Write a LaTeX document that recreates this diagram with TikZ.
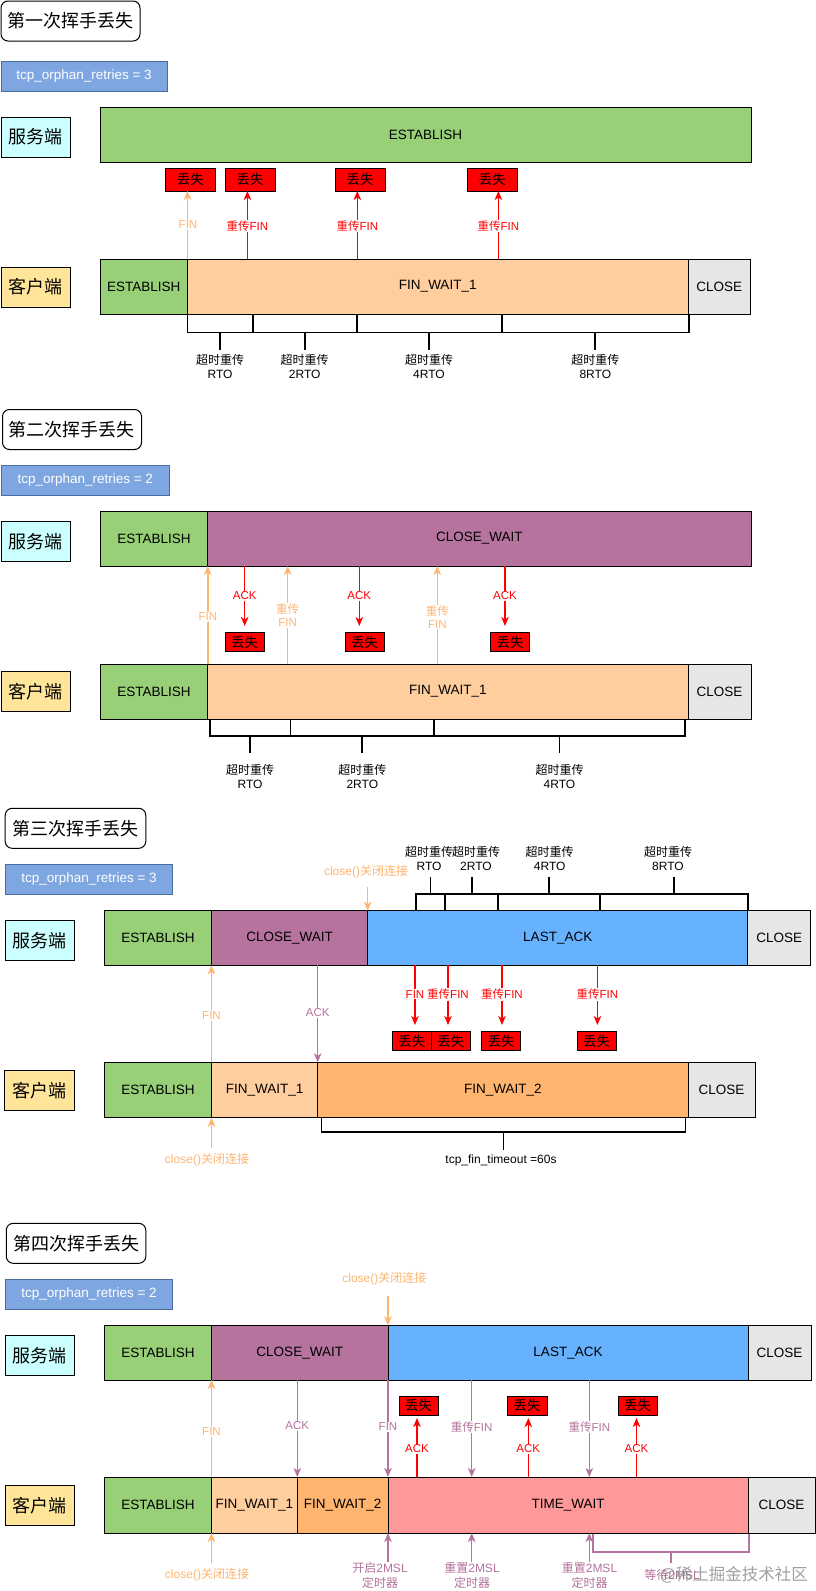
\documentclass[tikz,border=0pt]{standalone}
\usepackage{fontspec}
\setmainfont{Liberation Sans}
\newfontfamily\cjk{Noto Sans CJK SC}
\usetikzlibrary{arrows.meta}
\definecolor{cgreen}{HTML}{97D077}
\definecolor{cpurple}{HTML}{B5739D}
\definecolor{cfwa}{HTML}{FFCE9F}
\definecolor{cfwb}{HTML}{FFB570}
\definecolor{cblue}{HTML}{66B2FF}
\definecolor{ctw}{HTML}{FF9999}
\definecolor{cclose}{HTML}{E6E6E6}
\definecolor{ctcp}{HTML}{7EA6E0}
\definecolor{ctcpb}{HTML}{4A6B9E}
\definecolor{cserver}{HTML}{CCFFFF}
\definecolor{cclient}{HTML}{FFE599}
\definecolor{cred}{HTML}{FF0000}
\definecolor{corange}{HTML}{FFB570}
\newcommand\fsz[2]{\fontsize{#1}{#2}\selectfont}
\newcommand\rbox[7]{\node[#2, minimum width={(#5)-(#3)}, minimum height={(#6)-(#4)}] (#1) at ({((#3)+(#5))/2},{((#4)+(#6))/2}) {#7};}
\newcommand\seg[6][brk]{\draw[#1] (#2,#4) -- (#2,#5) -- (#3,#5) -- (#3,#4); \draw[#1] ({(#2+#3)/2},#5) -- ({(#2+#3)/2},#6);}
\begin{document}
\begin{tikzpicture}[x=1pt,y=-1pt,
  every node/.style={outer sep=0pt},
  bar/.style={draw=black, line width=1pt, inner sep=0pt, font=\fsz{13.5}{16}},
  titlebox/.style={draw=black, line width=1pt, rounded corners=7pt, fill=white, inner sep=0pt, font=\cjk\fsz{18}{20}},
  tcpbox/.style={draw=ctcpb, line width=1pt, fill=ctcp, text=white, inner sep=0pt, font=\fsz{13.5}{16}},
  srv/.style={draw=black, line width=0.9pt, fill=cserver, inner sep=0pt, font=\cjk\fsz{18}{20}},
  cli/.style={draw=black, line width=0.9pt, fill=cclient, inner sep=0pt, font=\cjk\fsz{18}{20}},
  loss/.style={draw=black, line width=0.8pt, fill=cred, inner sep=0pt, font=\cjk\fsz{13.5}{15}},
  arr/.style={line width=1.4pt, -{Stealth[length=9pt,width=7.5pt,inset=2.5pt]}},
  orarr/.style={arr, draw=corange},
  redarr/.style={arr, draw=cred},
  purarr/.style={arr, draw=cpurple},
  lab/.style={fill=white, inner sep=1pt, font=\fsz{11.5}{12.7}, align=center},
  orlab/.style={lab, text=corange},
  redlab/.style={lab, text=cred},
  purlab/.style={lab, text=cpurple},
  twol/.style={inner sep=0pt, align=center, font=\fsz{12}{14.3}},
  brk/.style={draw=black, line width=1.8pt},
  purbrk/.style={draw=cpurple, line width=1.6pt}]
\fill[white] (0,0) rectangle (816,1591);
\useasboundingbox (0,0) rectangle (816,1591);

% ===== Section 1 =====
\rbox{t1}{titlebox}{1}{1}{140}{41}{第一次挥手丢失}
\rbox{tcp1}{tcpbox}{1}{61}{167}{91}{tcp\_orphan\_retries = 3}
\rbox{srv1}{srv}{1}{117}{70.5}{157}{服务端}
\rbox{s1est}{bar,fill=cgreen}{100}{107}{751}{162}{ESTABLISH}
\rbox{l1a}{loss}{165}{168}{215.5}{191}{丢失}
\rbox{l1b}{loss}{225}{168}{275}{191}{丢失}
\rbox{l1c}{loss}{335}{168}{385}{191}{丢失}
\rbox{l1d}{loss}{467.5}{168}{517}{191}{丢失}
\rbox{cli1}{cli}{1}{267}{70.5}{307}{客户端}
\rbox{c1est}{bar,fill=cgreen}{100}{259}{187.5}{314}{ESTABLISH}
\rbox{c1fw}{bar,fill=cfwa}{187.5}{259}{688}{314}{FIN\_WAIT\_1}
\rbox{c1cl}{bar,fill=cclose}{688}{259}{750.5}{314}{CLOSE}
\draw[orarr] (c1fw.north west) -- (c1fw.north west |- l1a.south);
\coordinate (a1b) at (247.4,259);
\coordinate (a1c) at (357.3,259);
\coordinate (a1d) at (498.4,259);
\draw[redarr] (a1b) -- (a1b |- l1b.south);
\draw[redarr] (a1c) -- (a1c |- l1c.south);
\draw[redarr] (a1d) -- (a1d |- l1d.south);
\node[orlab] (f1a) at (188,225) {FIN};
\node[redlab] (f1b) at (247.4,226) {{\cjk 重传}FIN};
\node[redlab] (f1c) at (357.3,226) {{\cjk 重传}FIN};
\node[redlab] (f1d) at (498.4,226) {{\cjk 重传}FIN};
\seg{187.5}{252.6}{314}{332.5}{350}
\seg{252.6}{356.8}{314}{332.5}{350}
\seg{356.8}{501.6}{314}{332.5}{350}
\seg{501.6}{689}{314}{332.5}{350}
\node[twol] (b1a) at (220,366.5) {{\cjk 超时重传}\\RTO};
\node[twol] (b1b) at (304.7,366.5) {{\cjk 超时重传}\\2RTO};
\node[twol] (b1c) at (429,366.5) {{\cjk 超时重传}\\4RTO};
\node[twol] (b1d) at (595.3,366.5) {{\cjk 超时重传}\\8RTO};

% ===== Section 2 =====
\rbox{t2}{titlebox}{2.5}{409.5}{141.5}{449.5}{第二次挥手丢失}
\rbox{tcp2}{tcpbox}{1.5}{465}{169}{495.5}{tcp\_orphan\_retries = 2}
\rbox{srv2}{srv}{1}{521.5}{70.3}{561.5}{服务端}
\rbox{s2est}{bar,fill=cgreen}{100}{511}{207.8}{566}{ESTABLISH}
\rbox{s2cw}{bar,fill=cpurple}{207.8}{511}{751}{566}{CLOSE\_WAIT}
\rbox{l2a}{loss}{225}{632.7}{264}{651.7}{丢失}
\rbox{l2b}{loss}{345}{632.7}{384}{651.7}{丢失}
\rbox{l2c}{loss}{490.7}{632.7}{529.3}{651.7}{丢失}
\rbox{cli2}{cli}{1}{671.7}{70.3}{711.7}{客户端}
\rbox{c2est}{bar,fill=cgreen}{100}{664}{207.8}{719}{ESTABLISH}
\rbox{c2fw}{bar,fill=cfwa}{207.8}{664}{688}{719}{FIN\_WAIT\_1}
\rbox{c2cl}{bar,fill=cclose}{688}{664}{751}{719}{CLOSE}
\draw[orarr] (c2fw.north west) -- (c2fw.north west |- s2cw.south);
\coordinate (o2b) at (287.7,664);
\coordinate (o2c) at (437.3,664);
\draw[orarr] (o2b) -- (o2b |- s2cw.south);
\draw[orarr] (o2c) -- (o2c |- s2cw.south);
\coordinate (r2a) at (244.7,626);
\coordinate (r2b) at (359.3,626);
\coordinate (r2c) at (505,626);
\draw[redarr] (r2a |- s2cw.south) -- (r2a);
\draw[redarr] (r2b |- s2cw.south) -- (r2b);
\draw[redarr] (r2c |- s2cw.south) -- (r2c);
\node[orlab] (f2a) at (207.8,616.7) {FIN};
\node[orlab] (f2b) at (287.7,615.5) {{\cjk 重传}\\FIN};
\node[orlab] (f2c) at (437.3,617) {{\cjk 重传}\\FIN};
\node[redlab] (k2a) at (244.7,595.7) {ACK};
\node[redlab] (k2b) at (359.3,595.7) {ACK};
\node[redlab] (k2c) at (505,595.7) {ACK};
\seg{210}{290.5}{719}{735.7}{752.7}
\seg{290.5}{434}{719}{735.7}{752.7}
\seg{434}{685}{719}{735.7}{752.7}
\node[twol] (b2a) at (250,776.5) {{\cjk 超时重传}\\RTO};
\node[twol] (b2b) at (362.3,776.5) {{\cjk 超时重传}\\2RTO};
\node[twol] (b2c) at (559.5,776.5) {{\cjk 超时重传}\\4RTO};

% ===== Section 3 =====
\rbox{t3}{titlebox}{5.2}{808.3}{145.8}{848.3}{第三次挥手丢失}
\rbox{tcp3}{tcpbox}{5.2}{864}{172.9}{894.3}{tcp\_orphan\_retries = 3}
\rbox{srv3}{srv}{5}{920.7}{74.5}{960.7}{服务端}
\rbox{s3est}{bar,fill=cgreen}{104.7}{910.7}{211.5}{965.3}{ESTABLISH}
\rbox{s3cw}{bar,fill=cpurple}{211.5}{910.7}{367.7}{965.3}{CLOSE\_WAIT}
\rbox{s3la}{bar,fill=cblue}{367.7}{910.7}{747.8}{965.3}{LAST\_ACK}
\rbox{s3cl}{bar,fill=cclose}{747.8}{910.7}{810.9}{965.3}{CLOSE}
\node[orlab, font=\fsz{12}{14}] (k3) at (366,872) {close(){\cjk 关闭连接}};
\coordinate (k3a) at (367.7,887.3);
\draw[orarr] (k3a) -- (s3la.north west);
\seg{415.7}{445.3}{910.7}{894}{877}
\seg{445.3}{498.3}{910.7}{894}{877}
\seg{498.3}{599.7}{910.7}{894}{877}
\seg{599.7}{747.7}{910.7}{894}{877}
\node[twol] (b3a) at (429,858.2) {{\cjk 超时重传}\\RTO};
\node[twol] (b3b) at (476,858.2) {{\cjk 超时重传}\\2RTO};
\node[twol] (b3c) at (549.7,858.2) {{\cjk 超时重传}\\4RTO};
\node[twol] (b3d) at (668,858.2) {{\cjk 超时重传}\\8RTO};
\rbox{l3a}{loss}{392.7}{1031.7}{431.25}{1050.7}{丢失}
\rbox{l3b}{loss}{431.25}{1031.7}{470.3}{1050.7}{丢失}
\rbox{l3c}{loss}{481.8}{1031.7}{520.8}{1050.7}{丢失}
\rbox{l3d}{loss}{577}{1031.7}{616.1}{1050.7}{丢失}
\rbox{cli3}{cli}{4.2}{1070.7}{74.5}{1110}{客户端}
\rbox{c3est}{bar,fill=cgreen}{104.7}{1062.3}{211.5}{1117.7}{ESTABLISH}
\rbox{c3fwa}{bar,fill=cfwa}{211.5}{1062.3}{317.7}{1117.7}{FIN\_WAIT\_1}
\rbox{c3fwb}{bar,fill=cfwb}{317.7}{1062.3}{688}{1117.7}{FIN\_WAIT\_2}
\rbox{c3cl}{bar,fill=cclose}{688}{1062.3}{755.2}{1117.7}{CLOSE}
\coordinate (r3a) at (415,1025);
\coordinate (r3b) at (448,1025);
\coordinate (r3c) at (502,1025);
\coordinate (r3d) at (597.4,1025);
\draw[redarr] (r3a |- s3la.south) -- (r3a);
\draw[redarr] (r3b |- s3la.south) -- (r3b);
\draw[redarr] (r3c |- s3la.south) -- (r3c);
\draw[redarr] (r3d |- s3la.south) -- (r3d);
\node[redlab] (f3a) at (415,994.3) {FIN};
\node[redlab] (f3b) at (448,994.3) {{\cjk 重传}FIN};
\node[redlab] (f3c) at (502,994.3) {{\cjk 重传}FIN};
\node[redlab] (f3d) at (597.4,994.3) {{\cjk 重传}FIN};
\draw[orarr] (c3fwa.north west) -- (c3fwa.north west |- s3est.south);
\draw[purarr] (s3cw.south -| c3fwb.north west) -- (c3fwb.north west);
\node[orlab] (f3e) at (211.5,1016) {FIN};
\node[purlab] (k3c) at (317.7,1013) {ACK};
\coordinate (k3b) at (211.5,1148);
\draw[orarr] (k3b) -- (c3fwa.south west);
\node[orlab, font=\fsz{12}{14}] (k3d) at (207,1160) {close(){\cjk 关闭连接}};
\seg{321.4}{685.4}{1117.7}{1132.3}{1150}
\node[twol] (b3e) at (501,1160) {tcp\_fin\_timeout =60s};

% ===== Section 4 =====
\rbox{t4}{titlebox}{6.25}{1223.3}{145.8}{1263.3}{第四次挥手丢失}
\rbox{tcp4}{tcpbox}{5.2}{1279.3}{172.9}{1309.3}{tcp\_orphan\_retries = 2}
\rbox{srv4}{srv}{5}{1335.3}{74.5}{1375.3}{服务端}
\rbox{s4est}{bar,fill=cgreen}{104.7}{1325.3}{211.5}{1380}{ESTABLISH}
\rbox{s4cw}{bar,fill=cpurple}{211.5}{1325.3}{388}{1380}{CLOSE\_WAIT}
\rbox{s4la}{bar,fill=cblue}{388}{1325.3}{748}{1380}{LAST\_ACK}
\rbox{s4cl}{bar,fill=cclose}{748}{1325.3}{811}{1380}{CLOSE}
\node[orlab, font=\fsz{12}{14}] (k4) at (384.4,1278.3) {close(){\cjk 关闭连接}};
\coordinate (k4a) at (388,1296);
\draw[orarr] (k4a) -- (s4la.north west);
\rbox{l4a}{loss}{399}{1396}{438}{1415}{丢失}
\rbox{l4b}{loss}{507}{1396}{547}{1415}{丢失}
\rbox{l4c}{loss}{618}{1396}{657}{1415}{丢失}
\rbox{cli4}{cli}{5}{1485.7}{74.5}{1525.7}{客户端}
\rbox{c4est}{bar,fill=cgreen}{104.7}{1477}{211.5}{1533}{ESTABLISH}
\rbox{c4fwa}{bar,fill=cfwa}{211.5}{1477}{297.3}{1533}{FIN\_WAIT\_1}
\rbox{c4fwb}{bar,fill=cfwb}{297.3}{1477}{388}{1533}{FIN\_WAIT\_2}
\rbox{c4tw}{bar,fill=ctw}{388}{1477}{748}{1533}{TIME\_WAIT}
\rbox{c4cl}{bar,fill=cclose}{748}{1477}{815}{1533}{CLOSE}
\draw[orarr] (c4fwa.north west) -- (c4fwa.north west |- s4est.south);
\draw[purarr] (s4cw.south -| c4fwb.north west) -- (c4fwb.north west);
\draw[purarr] (s4la.south west) -- (c4tw.north west);
\coordinate (p4c) at (471.7,1477);
\coordinate (p4d) at (589.3,1477);
\draw[purarr] (p4c |- s4la.south) -- (p4c);
\draw[purarr] (p4d |- s4la.south) -- (p4d);
\coordinate (r4a) at (417,1477);
\coordinate (r4b) at (528.3,1477);
\coordinate (r4c) at (636.5,1477);
\coordinate (r4ae) at (417,1418);
\coordinate (r4be) at (528.3,1418);
\coordinate (r4ce) at (636.5,1418);
\draw[redarr] (r4a) -- (r4ae);
\draw[redarr] (r4b) -- (r4be);
\draw[redarr] (r4c) -- (r4ce);
\node[orlab] (f4a) at (211.5,1432) {FIN};
\node[purlab] (f4b) at (297.3,1426) {ACK};
\node[purlab] (f4c) at (388,1427) {FIN};
\node[purlab] (f4d) at (471.7,1427) {{\cjk 重传}FIN};
\node[purlab] (f4e) at (589.3,1427) {{\cjk 重传}FIN};
\node[redlab] (k4a1) at (417,1449) {ACK};
\node[redlab] (k4b1) at (528.3,1449) {ACK};
\node[redlab] (k4c1) at (636.5,1449) {ACK};
\coordinate (k4b) at (211.5,1563);
\draw[orarr] (k4b) -- (c4fwa.south west);
\node[orlab, font=\fsz{12}{14}] (k4d) at (207,1575) {close(){\cjk 关闭连接}};
\coordinate (q4a) at (388,1562);
\coordinate (q4b) at (471.7,1562);
\coordinate (q4c) at (589.3,1562);
\draw[purarr] (q4a) -- (c4tw.south west);
\draw[purarr] (q4b) -- (q4b |- c4tw.south);
\draw[purarr] (q4c) -- (q4c |- c4tw.south);
\node[twol, text=cpurple] (m4a) at (380,1575.5) {{\cjk 开启}2MSL\\{\cjk 定时器}};
\node[twol, text=cpurple] (m4b) at (472,1575.5) {{\cjk 重置}2MSL\\{\cjk 定时器}};
\node[twol, text=cpurple] (m4c) at (589.5,1575.5) {{\cjk 重置}2MSL\\{\cjk 定时器}};
\seg[purbrk]{593}{749}{1534}{1552}{1563}
\node[twol, text=cpurple] (m4d) at (672,1575) {{\cjk 等待}2MSL};
\node[text=gray, opacity=0.75, inner sep=0pt, font=\cjk\fsz{16.5}{18}] (wm) at (734,1575) {@稀土掘金技术社区};
\end{tikzpicture}
\end{document}
